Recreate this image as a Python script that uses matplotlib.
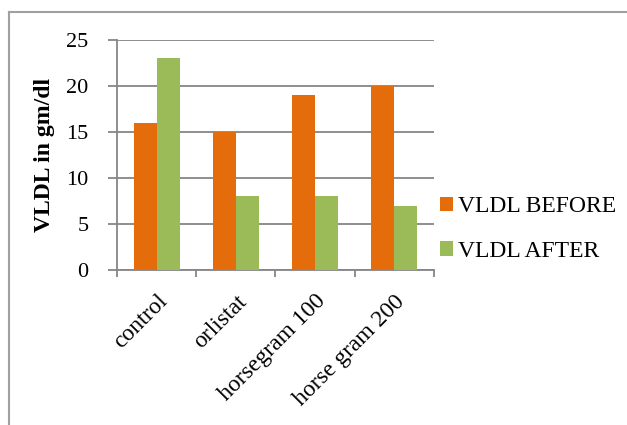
import matplotlib
matplotlib.use("Agg")
import matplotlib.pyplot as plt
from matplotlib.lines import Line2D
from matplotlib.patches import Patch
import numpy as np

categories = ["control", "orlistat", "horsegram 100", "horse gram 200"]
before = [16, 15, 19, 20]
after = [23, 8, 8, 7]
series_names = ["VLDL BEFORE", "VLDL AFTER"]
yticks = [0, 5, 10, 15, 20, 25]

plt.rcParams['font.family'] = ['Liberation Serif', 'DejaVu Serif']

fig = plt.figure(figsize=(6.27, 4.25), dpi=100)
ax = fig.add_axes([0.1866, 0.3647, 0.692 - 0.1866, 0.9059 - 0.3647])

x = np.arange(len(categories))
w = 0.29
orange = "#E46C0A"
green = "#9BBB59"
grid = "#868686"
ax.bar(x - w / 2, before, w, color=orange, zorder=3)
ax.bar(x + w / 2, after, w, color=green, zorder=3)

ax.set_xlim(-0.5, len(categories) - 0.5)
ax.set_ylim(0, 25)
ax.set_yticks(yticks)
ax.set_yticklabels([str(v) for v in yticks], fontsize=16)
ax.yaxis.grid(True, color=grid, linewidth=1.3, zorder=0)
ax.set_axisbelow(True)

ax.set_xticks(np.arange(len(categories) + 1) - 0.5, minor=False)
ax.set_xticklabels([""] * (len(categories) + 1))
ax.set_xticks(x, minor=True)
ax.set_xticklabels(categories, minor=True, rotation=45, ha='right',
                   rotation_mode='anchor', fontsize=17)
ax.tick_params(axis='x', which='minor', length=0, pad=15)
ax.tick_params(axis='x', which='major', length=5, width=1.3, color=grid)
ax.tick_params(axis='y', length=6.5, width=1.3, color=grid, pad=14)

for s in ['top', 'right']:
    ax.spines[s].set_visible(False)
for s in ['left', 'bottom']:
    ax.spines[s].set_color(grid)
    ax.spines[s].set_linewidth(1.3)

ax.set_ylabel("VLDL in gm/dl", fontsize=17, fontweight='bold', labelpad=8)

handles = [Patch(facecolor=orange), Patch(facecolor=green)]
fig.legend(handles, series_names, loc='center left',
           bbox_to_anchor=(0.7018, 0.461), frameon=False, fontsize=17,
           handlelength=0.55, handleheight=0.55, handletextpad=0.2,
           labelspacing=1.0, borderpad=0, borderaxespad=0)

# outer chart border (top and left visible)
fig.add_artist(Line2D([0.0144, 1.0], [0.9718, 0.9718], color="#A0A0A0",
                      linewidth=1.5, transform=fig.transFigure))
fig.add_artist(Line2D([0.0144, 0.0144], [0.0, 0.9718], color="#A0A0A0",
                      linewidth=1.5, transform=fig.transFigure))

fig.savefig("out.png", dpi=100)
